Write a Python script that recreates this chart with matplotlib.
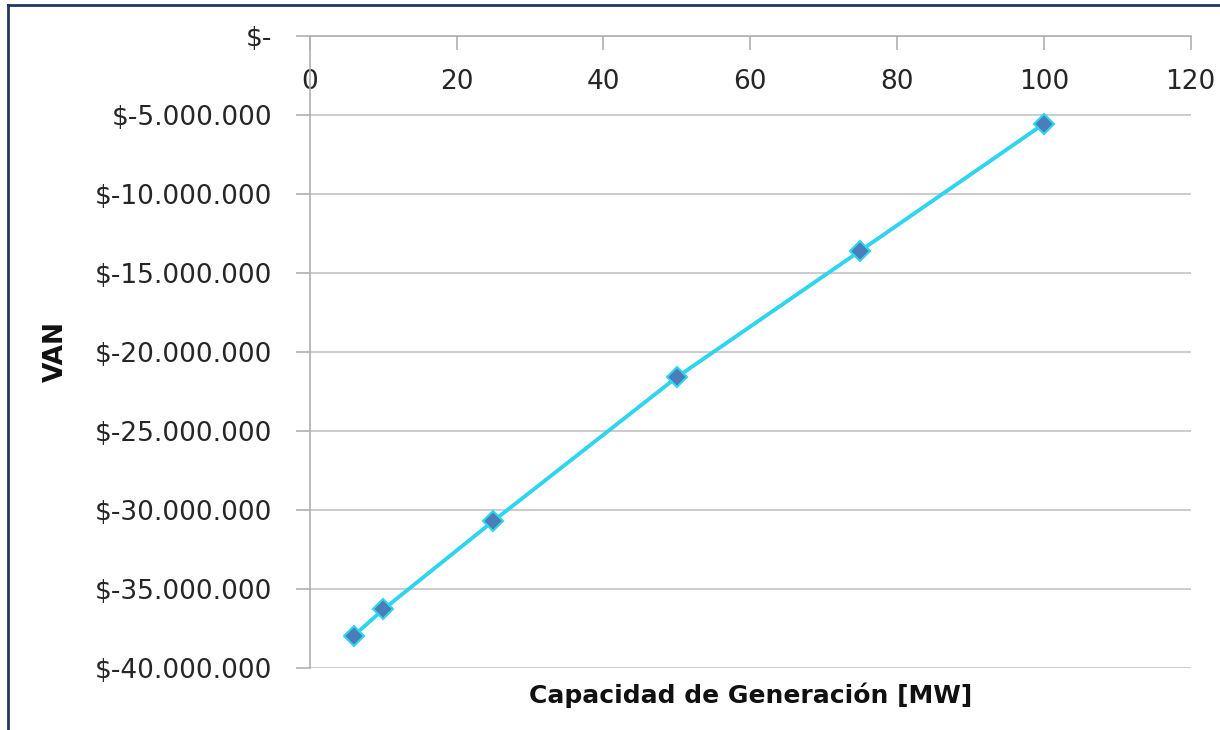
import matplotlib
matplotlib.use('Agg')
import matplotlib.pyplot as plt
from matplotlib.ticker import FuncFormatter, MultipleLocator

capacidad = [6, 10, 25, 50, 75, 100]
van = [-37.95e6, -36.3e6, -30.7e6, -21.6e6, -13.6e6, -5.57e6]

plt.rcParams['font.family'] = ['DejaVu Sans']

fig = plt.figure(figsize=(12.2, 7.3), dpi=100)
ax = fig.add_axes([0.254, 0.085, 0.722, 0.866])

ax.plot(capacidad, van, '-', color='#2fd4f0', lw=2.8, marker='D', ms=10,
        mfc='#4a7ebb', mec='#2fd4f0', mew=1.5, zorder=3)

ax.set_xlim(0, 120)
ax.set_ylim(-40e6, 0)
ax.xaxis.set_major_locator(MultipleLocator(20))
ax.yaxis.set_major_locator(MultipleLocator(5e6))


def fmt(v, pos):
    if abs(v) < 1:
        return '$-'
    return '$-' + f'{abs(v):,.0f}'.replace(',', '.')


ax.yaxis.set_major_formatter(FuncFormatter(fmt))

ax.spines['bottom'].set_position(('data', 0))
ax.spines['top'].set_visible(False)
ax.spines['right'].set_visible(False)
for s in ('bottom', 'left'):
    ax.spines[s].set_color('#b0b0b0')
    ax.spines[s].set_linewidth(1.2)

ax.grid(axis='y', color='#c4c4c4', lw=1.2)
ax.set_axisbelow(True)
ax.tick_params(axis='x', direction='out', length=10, width=1.2, color='#b0b0b0',
               pad=14, labelsize=19, labelcolor='#262626')
ax.tick_params(axis='y', direction='out', length=10, width=1.2, color='#b0b0b0',
               pad=17, labelsize=19, labelcolor='#262626')

fig.text(0.615, 0.048, 'Capacidad de Generación [MW]', ha='center', va='center',
         fontsize=18, fontweight='bold', color='#111111')
fig.text(0.046, 0.518, 'VAN', ha='center', va='center', rotation=90,
         fontsize=19, fontweight='bold', color='#111111')

# marco de la figura
fig.add_artist(plt.Line2D([0.0065, 1.0], [0.993, 0.993], color='#1f3864', lw=2))
fig.add_artist(plt.Line2D([0.0065, 0.0065], [0.0, 0.993], color='#1f3864', lw=2))

plt.savefig('out.png', dpi=100)
